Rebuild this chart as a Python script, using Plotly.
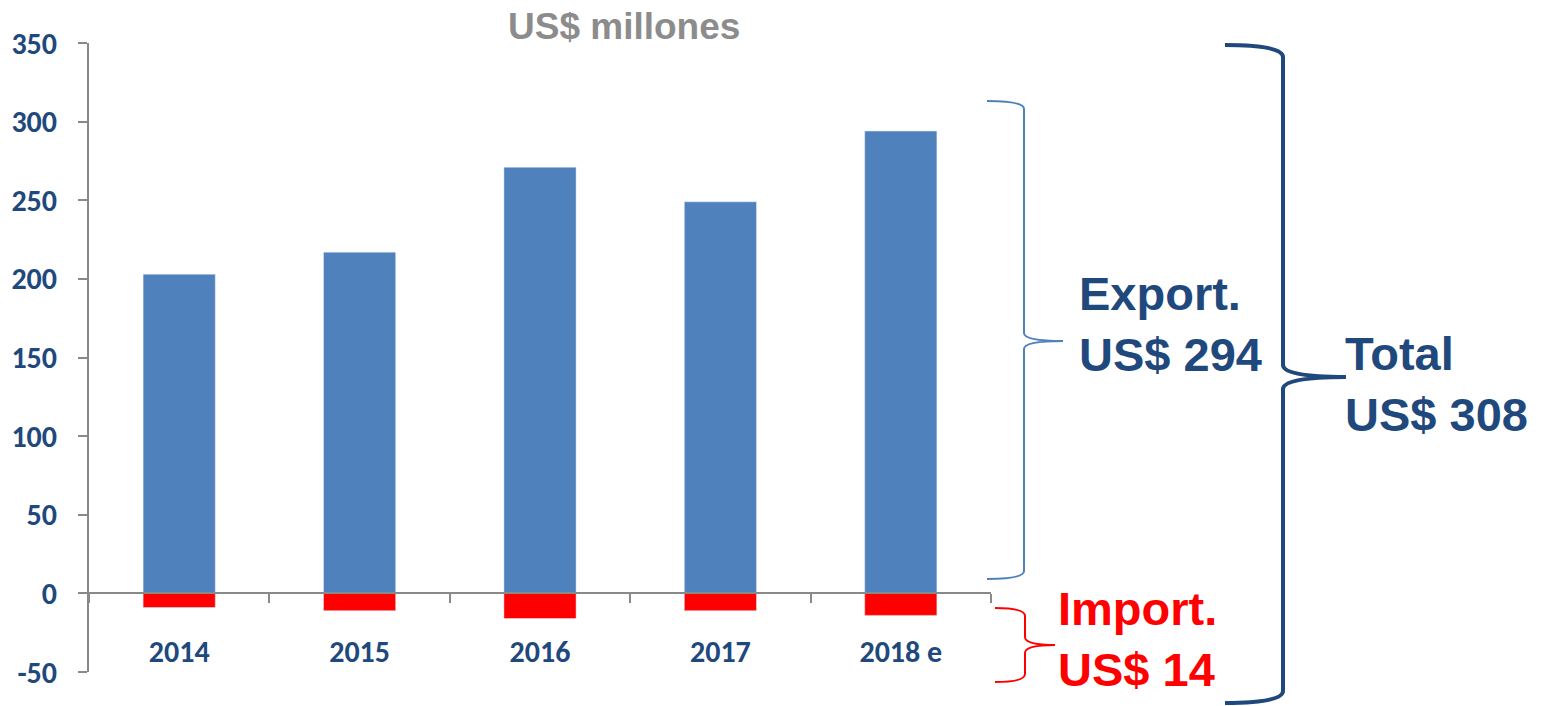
import plotly.graph_objects as go

# ---- data ----
years = ["2014", "2015", "2016", "2017", "2018 e"]
exports = [203, 217, 271, 249, 294]
imports = [-9, -11, -16, -11, -14]
y_ticks = [-50, 0, 50, 100, 150, 200, 250, 300, 350]
y_ticktext = ["-50", "0", "50", "100", "150", "200", "250", "300", "350"]

title_text = "US$ millones"
export_label = "Export.<br>US$ 294"
import_label = "Import.<br>US$ 14"
total_label = "Total<br>US$ 308"

# ---- layout geometry (pixels) ----
W, H = 1544, 706
L, R, T, B = 89, 991, 43, 672

def px(x):
    return (x - L) / (R - L)

def py(y):
    return (B - y) / (B - T)

def brace(xe, xs, xt, y1, ym, y2, r):
    pts = [
        ("M", [(xe, y1)]),
        ("Q", [(xs, y1), (xs, y1 + r)]),
        ("L", [(xs, ym - r)]),
        ("Q", [(xs, ym), (xt, ym)]),
        ("M", [(xt, ym)]),
        ("Q", [(xs, ym), (xs, ym + r)]),
        ("L", [(xs, y2 - r)]),
        ("Q", [(xs, y2), (xe, y2)]),
    ]
    s = ""
    for cmd, ps in pts:
        s += cmd + " " + " ".join(f"{px(a):.5f},{py(b):.5f}" for a, b in ps) + " "
    return s.strip()

blue = "#4F81BD"
dark = "#1F497D"
grey = "#898989"
tick_font = dict(family="Carlito, Liberation Sans, Arial, sans-serif",
                 size=30, color=dark, weight="bold")
big_font = "Liberation Sans, Arial, sans-serif"

fig = go.Figure()
fig.add_trace(go.Bar(x=years, y=exports, marker_color=blue, width=0.4, name="Export"))
fig.add_trace(go.Bar(x=years, y=imports, marker_color="#FF0000", width=0.4, name="Import"))

fig.update_layout(
    width=W, height=H,
    margin=dict(l=L, r=W - R, t=T, b=H - B, pad=0, autoexpand=False),
    barmode="relative",
    showlegend=False,
    plot_bgcolor="white", paper_bgcolor="white",
    xaxis=dict(type="category", categoryorder="array", categoryarray=years,
               range=[-0.5, 4.5], anchor="free", position=50 / 400,
               showline=True, linecolor=grey, linewidth=2,
               ticks="outside", ticklen=9, tickwidth=2, tickcolor=grey,
               tickson="boundaries", showgrid=False, zeroline=False,
               tickfont=tick_font, ticklabelstandoff=32, automargin=False),
    yaxis=dict(range=[-50, 350], tickvals=y_ticks, ticktext=y_ticktext,
               showline=True, linecolor=grey,
               linewidth=2, ticks="outside", ticklen=9, tickwidth=2, tickcolor=grey,
               showgrid=False, zeroline=False, tickfont=tick_font,
               ticklabelstandoff=15, automargin=False),
)

shapes = [
    dict(type="path", xref="paper", yref="paper",
         path=brace(987, 1024, 1063, 101, 341, 579, 8),
         line=dict(color=blue, width=2)),
    dict(type="path", xref="paper", yref="paper",
         path=brace(995, 1025, 1055, 608, 645, 682, 8),
         line=dict(color="#FF0000", width=2)),
    dict(type="path", xref="paper", yref="paper",
         path=brace(1225, 1283, 1346, 45, 377, 703, 12),
         line=dict(color=dark, width=4)),
]
fig.update_layout(shapes=shapes)

fig.add_annotation(text=title_text, xref="paper", yref="paper", x=px(624), y=py(26),
                   xanchor="center", yanchor="middle", showarrow=False,
                   font=dict(family=big_font, size=37, color="#8C8C8C", weight="bold"))
fig.add_annotation(text=export_label, xref="paper", yref="paper", x=px(1077), y=py(324),
                   xanchor="left", yanchor="middle", align="left", showarrow=False,
                   font=dict(family=big_font, size=47, color=dark, weight="bold"))
fig.add_annotation(text=import_label, xref="paper", yref="paper", x=px(1056), y=py(639),
                   xanchor="left", yanchor="middle", align="left", showarrow=False,
                   font=dict(family=big_font, size=47, color="#FF0000", weight="bold"))
fig.add_annotation(text=total_label, xref="paper", yref="paper", x=px(1343), y=py(384),
                   xanchor="left", yanchor="middle", align="left", showarrow=False,
                   font=dict(family=big_font, size=47, color=dark, weight="bold"))

fig.write_html("out.html", config={"displayModeBar": False},
               post_script="document.body.style.margin='0';")
